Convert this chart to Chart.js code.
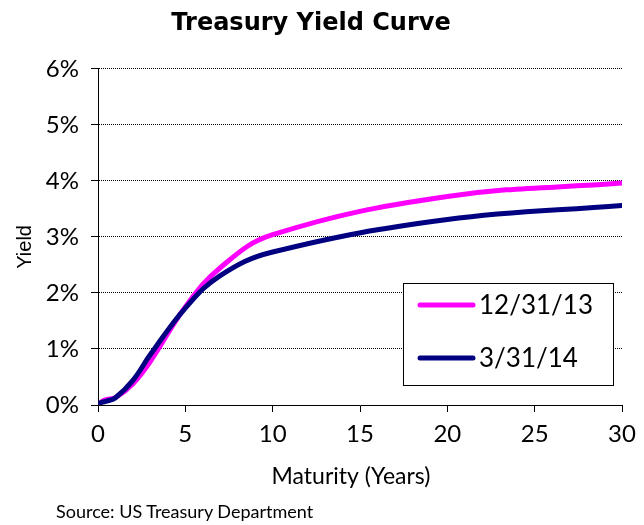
<!DOCTYPE html>
<html>
<head>
<meta charset="utf-8">
<script src="https://cdn.jsdelivr.net/npm/chart.js@4.4.1/dist/chart.umd.min.js"></script>
<style>
    html, body { margin: 0; padding: 0; background: #fff; }
    #wrap { position: relative; width: 644px; height: 525px; }
    #source {
        position: absolute; left: 56px; top: 500px;
        font: 18px Lato, "Noto Sans", sans-serif; color: #000;
    }
</style>
</head>
<body>
<div id="wrap">
    <canvas id="yield_curve"></canvas>
    <div id="source">Source: US Treasury Department</div>
</div>
<script>
// maturity in years, yields in percent
const maturities = [0.083, 0.25, 0.5, 1, 2, 3, 5, 7, 10, 20, 30];
const dec2013 = [0.02, 0.07, 0.10, 0.13, 0.38, 0.78, 1.75, 2.45, 3.04, 3.72, 3.96];
const mar2014 = [0.03, 0.05, 0.07, 0.13, 0.44, 0.90, 1.73, 2.31, 2.73, 3.31, 3.56];
const seriesNames = ['12/31/13', '3/31/14'];
const yTicks = [0, 1, 2, 3, 4, 5, 6];
const xTicks = [0, 5, 10, 15, 20, 25, 30];

const FONT = 'Lato, "Noto Sans", sans-serif';

Chart.defaults.color = '#000';
Chart.defaults.font.family = FONT;

function toPoints(values) {
    return maturities.map((m, i) => ({x: m, y: values[i]}));
}

// legend drawn inside the plot, boxed, like the excel original
const legendBox = {
    id: 'legendBox',
    afterDatasetsDraw(chart) {
        const {ctx, chartArea} = chart;
        const w = 210, h = 102;
        const x = Math.round(chartArea.right - 9 - w);
        const y = Math.round(chartArea.top + 214);
        ctx.save();
        ctx.fillStyle = '#fff';
        ctx.fillRect(x, y, w, h);
        ctx.strokeStyle = '#000';
        ctx.lineWidth = 1;
        ctx.strokeRect(x + 0.5, y + 0.5, w, h);
        ctx.font = '26px ' + FONT;
        ctx.textBaseline = 'middle';
        chart.data.datasets.forEach((ds, i) => {
            const ly = y + 22 + i * 53;
            ctx.strokeStyle = ds.borderColor;
            ctx.lineWidth = 5;
            ctx.lineCap = 'round';
            ctx.beginPath();
            ctx.moveTo(x + 17, ly);
            ctx.lineTo(x + 70, ly);
            ctx.stroke();
            ctx.fillStyle = '#000';
            ctx.fillText(ds.label, x + 76, ly + 1);
        });
        ctx.restore();
    }
};

// axis titles sit a little off centre in the original
const axisTitles = {
    id: 'axisTitles',
    afterDraw(chart) {
        const {ctx, chartArea} = chart;
        const cx = (chartArea.left + chartArea.right) / 2;
        const cy = (chartArea.top + chartArea.bottom) / 2;
        ctx.save();
        ctx.fillStyle = '#000';
        ctx.textAlign = 'center';
        ctx.textBaseline = 'middle';
        ctx.font = '23px ' + FONT;
        ctx.fillText('Maturity (Years)', cx - 9, chartArea.bottom + 72);
        ctx.translate(25, cy + 10);
        ctx.rotate(-Math.PI / 2);
        ctx.font = '20px "Liberation Sans", Arial, sans-serif';
        ctx.fillText('Yield', 0, 0);
        ctx.restore();
    }
};

const data = {
    datasets: [
        {
            label: seriesNames[0],
            data: toPoints(dec2013),
            borderColor: '#ff00ff',
            order: 2
        },
        {
            label: seriesNames[1],
            data: toPoints(mar2014),
            borderColor: '#000080',
            order: 1
        }
    ]
};

const config = {
    type: 'line',
    data: data,
    options: {
        responsive: true,
        maintainAspectRatio: false,
        animation: false,
        layout: {
            padding: {left: 0, right: 22, top: 0, bottom: 30}
        },
        elements: {
            point: {radius: 0},
            line: {borderWidth: 5, tension: 0.4, borderCapStyle: 'round', fill: false}
        },
        plugins: {
            legend: {display: false},
            tooltip: {enabled: false},
            title: {
                display: true,
                text: 'Treasury Yield Curve',
                font: {family: '"DejaVu Sans", sans-serif', size: 24, weight: 'bold'},
                color: '#000',
                padding: {top: 9, bottom: 31}
            }
        },
        scales: {
            x: {
                type: 'linear',
                min: 0,
                max: 30,
                afterFit: function(scale) { scale.height = 90; },
                afterBuildTicks: function(scale) {
                    scale.ticks = xTicks.map(v => ({value: v}));
                },
                grid: {
                    drawOnChartArea: false,
                    drawTicks: true,
                    tickLength: 7,
                    color: '#000'
                },
                border: {color: '#000', width: 1},
                ticks: {
                    font: {size: 24},
                    padding: 8,
                    maxRotation: 0
                }
            },
            y: {
                min: 0,
                max: 6,
                afterFit: function(scale) { scale.width = 98; },
                afterBuildTicks: function(scale) {
                    scale.ticks = yTicks.map(v => ({value: v}));
                },
                grid: {
                    color: '#000',
                    lineWidth: 1,
                    tickLength: 7,
                    tickBorderDash: []
                },
                border: {color: '#000', width: 1, dash: [1, 1]},
                ticks: {
                    font: {size: 24},
                    padding: 12,
                    callback: function(v) { return v + '%'; }
                }
            }
        }
    },
    plugins: [legendBox, axisTitles]
};

const canvas = document.getElementById('yield_curve');
const ctx = canvas.getContext('2d');
const chart = new Chart(ctx, config);
</script>
</body>
</html>
